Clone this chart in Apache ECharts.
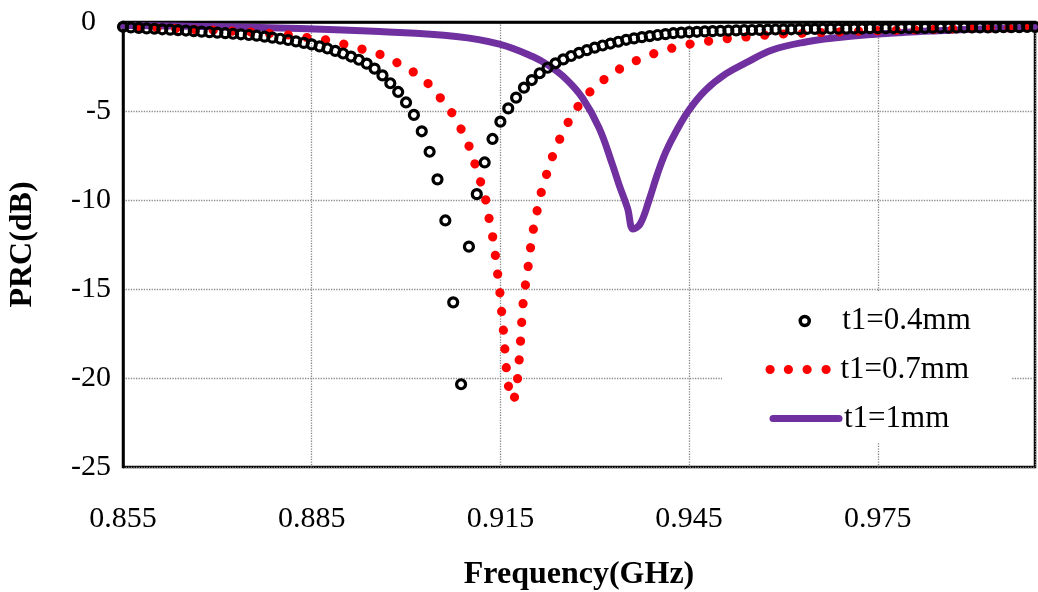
<!DOCTYPE html>
<html>
<head>
<meta charset="utf-8">
<script src="https://cdn.jsdelivr.net/npm/echarts@6/dist/echarts.min.js"></script>
<style>
  html, body { margin: 0; padding: 0; background: #fff; }
  #prc { width: 1038px; height: 592px; }
</style>
</head>
<body>
<div id="prc"></div>
<script>
// PRC vs frequency for three values of t1
const xTicks = [0.855, 0.885, 0.915, 0.945, 0.975];
const yTicks = [0, -5, -10, -15, -20, -25];

// t1=0.4mm, one marker per simulated frequency
const freq04 = [
  0.855, 0.85625, 0.8575, 0.85875, 0.86, 0.86125, 0.8625, 0.86375,
  0.865, 0.86625, 0.8675, 0.86875, 0.87, 0.87125, 0.8725, 0.87375,
  0.875, 0.87625, 0.8775, 0.87875, 0.88, 0.88125, 0.8825, 0.88375,
  0.885, 0.88625, 0.8875, 0.88875, 0.89, 0.89125, 0.8925, 0.89375,
  0.895, 0.89625, 0.8975, 0.89875, 0.9, 0.90125, 0.9025, 0.90375,
  0.905, 0.90625, 0.9075, 0.90875, 0.91, 0.91125, 0.9125, 0.91375,
  0.915, 0.91625, 0.9175, 0.91875, 0.92, 0.92125, 0.9225, 0.92375,
  0.925, 0.92625, 0.9275, 0.92875, 0.93, 0.93125, 0.9325, 0.93375,
  0.935, 0.93625, 0.9375, 0.93875, 0.94, 0.94125, 0.9425, 0.94375,
  0.945, 0.94625, 0.9475, 0.94875, 0.95, 0.95125, 0.9525, 0.95375,
  0.955, 0.95625, 0.9575, 0.95875, 0.96, 0.96125, 0.9625, 0.96375,
  0.965, 0.96625, 0.9675, 0.96875, 0.97, 0.97125, 0.9725, 0.97375,
  0.975, 0.97625, 0.9775, 0.97875, 0.98, 0.98125, 0.9825, 0.98375,
  0.985, 0.98625, 0.9875, 0.98875, 0.99, 0.99125, 0.9925, 0.99375,
  0.995, 0.99625, 0.9975, 0.99875, 1.0
];
const prc04 = [
  -0.27, -0.30, -0.33, -0.36, -0.38, -0.41, -0.43, -0.46,
  -0.48, -0.51, -0.54, -0.57, -0.60, -0.63, -0.66, -0.69,
  -0.73, -0.77, -0.82, -0.88, -0.94, -1.01, -1.09, -1.17,
  -1.26, -1.37, -1.49, -1.62, -1.77, -1.94, -2.12, -2.34,
  -2.62, -3.00, -3.44, -3.93, -4.52, -5.22, -6.14, -7.29,
  -8.84, -11.15, -15.75, -20.35, -12.62, -9.67, -7.89, -6.57,
  -5.60, -4.85, -4.25, -3.69, -3.26, -2.88, -2.57, -2.32,
  -2.10, -1.91, -1.73, -1.58, -1.44, -1.32, -1.21, -1.11,
  -1.00, -0.92, -0.85, -0.79, -0.73, -0.68, -0.63, -0.60,
  -0.57, -0.55, -0.53, -0.51, -0.50, -0.48, -0.47, -0.46,
  -0.45, -0.44, -0.43, -0.42, -0.41, -0.41, -0.40, -0.39,
  -0.39, -0.38, -0.38, -0.37, -0.37, -0.36, -0.36, -0.35,
  -0.35, -0.35, -0.34, -0.34, -0.33, -0.33, -0.33, -0.32,
  -0.32, -0.32, -0.31, -0.31, -0.31, -0.30, -0.30, -0.30,
  -0.29, -0.29, -0.29, -0.28, -0.28
];

// t1=0.7mm
const freq07 = [
  0.855, 0.86722, 0.87516, 0.88151, 0.88441, 0.88733, 0.89013, 0.89298,
  0.89579, 0.89844, 0.90108, 0.90346, 0.90532, 0.90717, 0.90865, 0.90992,
  0.91087, 0.91178, 0.91262, 0.91314, 0.91373, 0.91416, 0.91452, 0.91489,
  0.91516, 0.91544, 0.91567, 0.9159, 0.91611, 0.91711, 0.91749, 0.91786,
  0.91806, 0.91829, 0.91844, 0.9187, 0.91913, 0.91956, 0.91992, 0.9204,
  0.92103, 0.92171, 0.92262, 0.92357, 0.92473, 0.92611, 0.92765, 0.92965,
  0.93203, 0.93452, 0.93717, 0.93997, 0.94278, 0.94563, 0.94854, 0.95146,
  0.95437, 0.95733, 0.96024, 0.9704, 0.9863, 1.0
];
const prc07 = [
  -0.28, -0.42, -0.56, -0.73, -0.88, -1.01, -1.25, -1.52,
  -1.81, -2.26, -2.79, -3.44, -4.2, -5.04, -5.94, -6.87,
  -7.89, -8.88, -9.9, -10.93, -11.97, -12.99, -14.03, -15.06,
  -16.11, -17.15, -18.2, -19.24, -20.29, -21.27, -20.71, -19.66,
  -18.6, -17.54, -16.5, -15.45, -14.42, -13.37, -12.32, -11.31,
  -10.3, -9.25, -8.26, -7.25, -6.35, -5.41, -4.57, -3.76,
  -3.07, -2.51, -2.08, -1.7, -1.42, -1.2, -1.05, -0.92,
  -0.83, -0.73, -0.67, -0.53, -0.39, -0.31
];

// t1=1mm
const freq10 = [
  0.855, 0.86722, 0.8831, 0.89579, 0.90797, 0.91484, 0.92013, 0.92278,
  0.92543, 0.92806, 0.93071, 0.93283, 0.93389, 0.93521, 0.93611, 0.93722,
  0.93865, 0.93997, 0.9413, 0.94289, 0.945, 0.94765, 0.95083, 0.954,
  0.95822, 0.96352, 0.96881, 0.9741, 0.9794, 0.98468, 0.98997, 0.99527, 1.0
];
const prc10 = [
  -0.2, -0.25, -0.37, -0.54, -0.81, -1.24, -1.94, -2.47,
  -3.2, -4.27, -5.96, -8.03, -9.16, -10.45, -11.63, -11.35,
  -10.0, -8.54, -7.3, -6.18, -4.94, -3.82, -2.92, -2.3,
  -1.57, -1.12, -0.87, -0.7, -0.58, -0.49, -0.41, -0.35, -0.3
];

const seriesNames = ['t1=0.4mm', 't1=0.7mm', 't1=1mm'];

(function() {
  const FONT = '"Times New Roman", "Liberation Serif", serif';
  const DOT_GAP = 18.7;
  const pairs = (xs, ys) => xs.map((x, i) => [x, ys[i]]);

  const legendText = { fontFamily: FONT, fontSize: 31, color: '#000' };
  // hollow ring in the middle-right of a 65x9 box
  const ringIcon = 'path://M28,4.5a4.5,4.5 0 1,0 9,0a4.5,4.5 0 1,0 -9,0M0,0M65,9';
  // four red dots for the dotted-line key
  const dotsIcon = 'path://M0,4.6a4.6,4.6 0 1,0 9.2,0a4.6,4.6 0 1,0 -9.2,0' +
    'M18.3,4.6a4.6,4.6 0 1,0 9.2,0a4.6,4.6 0 1,0 -9.2,0' +
    'M37,4.6a4.6,4.6 0 1,0 9.2,0a4.6,4.6 0 1,0 -9.2,0' +
    'M56,4.6a4.6,4.6 0 1,0 9.2,0a4.6,4.6 0 1,0 -9.2,0M70,0';

  const option = {
    backgroundColor: '#fff',
    animation: false,
    grid: {
      left: 123, right: 3, top: 22, bottom: 125,
      outerBoundsMode: 'none',
      show: true, borderColor: '#000', borderWidth: 2.5,
      backgroundColor: 'transparent'
    },
    graphic: [{
      type: 'rect', z: 1,
      shape: { x: 722, y: 292, width: 289, height: 151 },
      style: { fill: '#fff' }
    }],
    legend: [
      {
        data: [{ name: seriesNames[0], icon: ringIcon,
          itemStyle: { color: 'rgba(255,255,255,0)', borderColor: '#000', borderWidth: 3.5 } }],
        left: 770.5, top: 305.5, padding: 0,
        itemWidth: 65, itemHeight: 9,
        textStyle: legendText
      },
      {
        data: [{ name: seriesNames[1], icon: dotsIcon }],
        left: 765.5, top: 354, padding: 0,
        itemWidth: 70, itemHeight: 9.2,
        textStyle: legendText
      },
      {
        data: [{ name: seriesNames[2] }],
        left: 769.5, top: 403, padding: 0,
        itemWidth: 66, itemHeight: 7,
        lineStyle: { width: 7, cap: 'round' },
        textStyle: legendText
      }
    ],
    xAxis: {
      type: 'value',
      min: xTicks[0], max: 1.0, interval: 0.03,
      axisLine: { lineStyle: { color: '#000', width: 2.5 } },
      axisTick: { show: false },
      axisLabel: {
        margin: 37, fontSize: 30, fontFamily: FONT, color: '#000',
        showMaxLabel: false,
        formatter: (v) => v.toFixed(3)
      },
      splitLine: { show: true, lineStyle: { type: 'dotted', color: '#8a8a8a', width: 1.3 } },
      name: 'Frequency(GHz)',
      nameLocation: 'middle',
      nameGap: 92,
      nameTextStyle: { fontFamily: FONT, fontSize: 32, fontWeight: 'bold', color: '#000' }
    },
    yAxis: {
      type: 'value',
      min: yTicks[yTicks.length - 1], max: yTicks[0], interval: 5,
      axisLine: { show: true, lineStyle: { color: '#000', width: 2.5 } },
      axisTick: { show: false },
      axisLabel: {
        margin: 12, fontSize: 30, fontFamily: FONT, color: '#000',
        // the zero label sits a little left of the others, as in the source
        formatter: (v) => (v === 0 ? '{z|0}' : String(v)),
        rich: { z: { fontSize: 30, fontFamily: FONT, color: '#000', padding: [0, 15, 0, 0] } }
      },
      splitLine: { show: true, lineStyle: { type: 'dotted', color: '#8a8a8a', width: 1.3 } },
      name: 'PRC(dB)',
      nameLocation: 'middle',
      nameGap: 84,
      nameTextStyle: { fontFamily: FONT, fontSize: 32, fontWeight: 'bold', color: '#000' }
    },
    series: [
      {
        id: 'thick',
        name: seriesNames[2],
        type: 'line',
        z: 2,
        data: pairs(freq10, prc10),
        smooth: 0.4,
        symbol: 'none',
        lineStyle: { color: '#7030A0', width: 7, cap: 'round', join: 'round' },
        itemStyle: { color: '#7030A0' }
      },
      {
        id: 'dotted',
        name: seriesNames[1],
        type: 'line',
        z: 3,
        data: pairs(freq07, prc07),
        symbol: 'none',
        lineStyle: { color: '#ff0000', width: 9.2, type: [0.1, DOT_GAP], cap: 'round' },
        itemStyle: { color: '#ff0000' }
      },
      {
        id: 'ring',
        name: seriesNames[0],
        type: 'scatter',
        z: 4,
        data: pairs(freq04, prc04),
        symbol: 'circle',
        symbolSize: 9,
        itemStyle: { color: 'rgba(255,255,255,0)', borderColor: '#000', borderWidth: 3.2, opacity: 1 }
      }
    ]
  };

  const chart = echarts.init(document.getElementById('prc'));
  chart.setOption(option);

  // shift the dot pattern so that one dot sits on the bottom of the dip
  const tip = prc07.indexOf(Math.min(...prc07));
  let len = 0;
  for (let i = 1; i <= tip; i++) {
    const a = chart.convertToPixel({ gridIndex: 0 }, [freq07[i - 1], prc07[i - 1]]);
    const b = chart.convertToPixel({ gridIndex: 0 }, [freq07[i], prc07[i]]);
    len += Math.hypot(b[0] - a[0], b[1] - a[1]);
  }
  const offset = (DOT_GAP - (len % DOT_GAP)) % DOT_GAP;
  chart.setOption({ series: [{ id: 'dotted', lineStyle: { dashOffset: offset } }] });

  window.addEventListener('resize', () => chart.resize());
})();
</script>
</body>
</html>
